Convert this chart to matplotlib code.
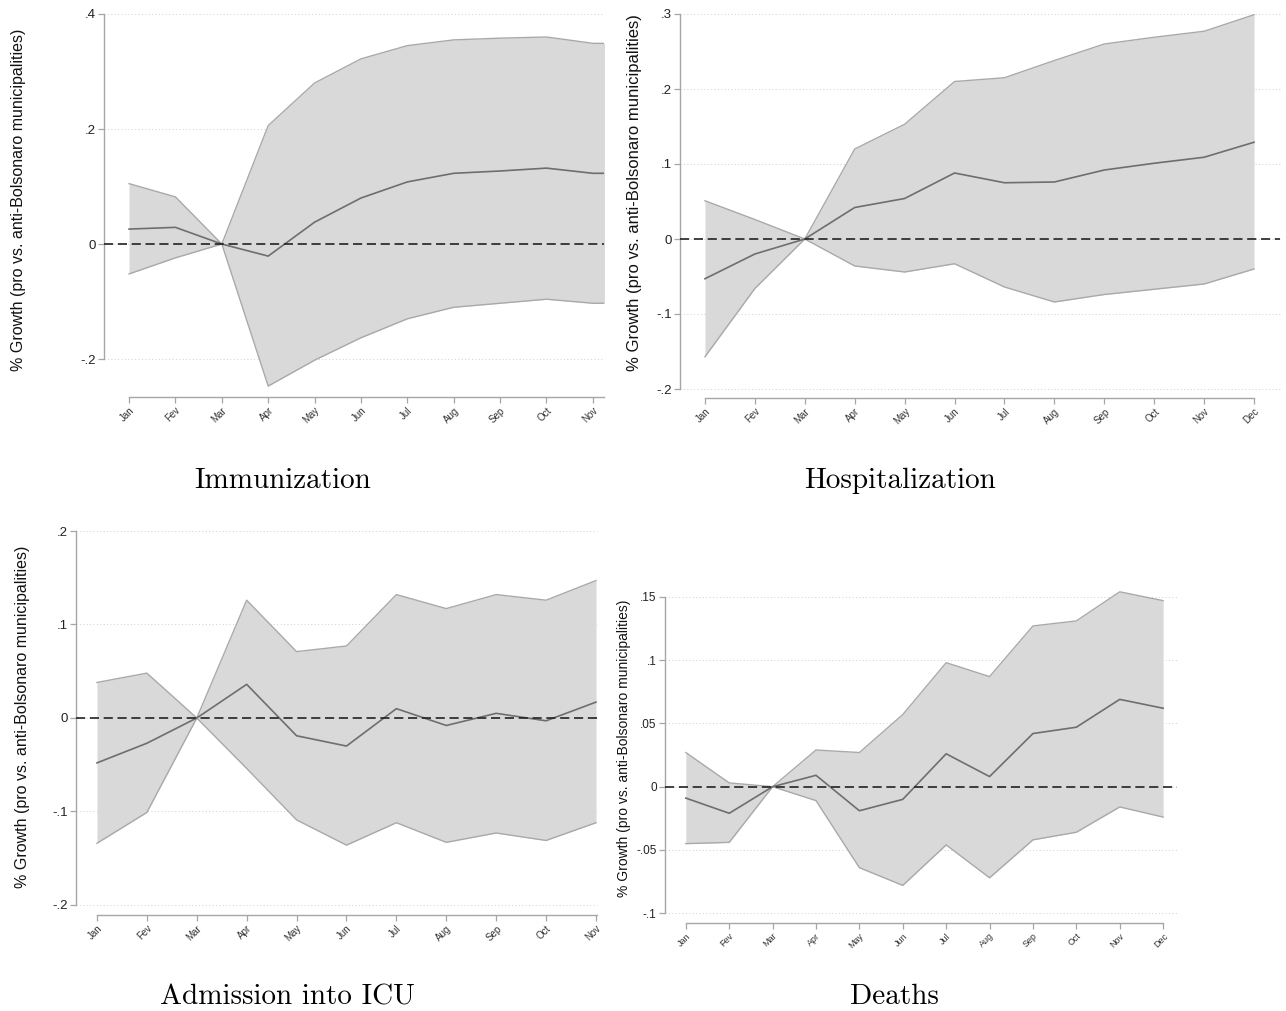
import matplotlib
matplotlib.use("Agg")
import matplotlib.pyplot as plt

months = ["Jan", "Fev", "Mar", "Apr", "May", "Jun", "Jul", "Aug", "Sep", "Oct", "Nov", "Dec"]

# Immunization (last month falls outside the visible window)
imm_est = [0.026, 0.029, 0.0, -0.021, 0.038, 0.080, 0.108, 0.123, 0.127, 0.132, 0.123, 0.123]
imm_lo = [-0.052, -0.024, 0.0, -0.247, -0.202, -0.163, -0.130, -0.110, -0.103, -0.096, -0.103, -0.103]
imm_hi = [0.105, 0.082, 0.0, 0.206, 0.280, 0.322, 0.345, 0.355, 0.358, 0.360, 0.349, 0.349]

# Hospitalization
hosp_est = [-0.053, -0.020, 0.0, 0.042, 0.054, 0.088, 0.075, 0.076, 0.092, 0.101, 0.109, 0.129]
hosp_lo = [-0.157, -0.066, 0.0, -0.036, -0.044, -0.033, -0.064, -0.084, -0.074, -0.067, -0.060, -0.040]
hosp_hi = [0.051, 0.026, 0.0, 0.120, 0.153, 0.210, 0.215, 0.238, 0.260, 0.269, 0.277, 0.299]

# Admission into ICU
icu_est = [-0.048, -0.027, 0.0, 0.036, -0.019, -0.030, 0.010, -0.008, 0.005, -0.003, 0.017]
icu_lo = [-0.134, -0.101, 0.0, -0.054, -0.109, -0.136, -0.112, -0.133, -0.123, -0.131, -0.112]
icu_hi = [0.038, 0.048, 0.0, 0.126, 0.071, 0.077, 0.132, 0.117, 0.132, 0.126, 0.147]

# Deaths
death_est = [-0.009, -0.021, 0.0, 0.009, -0.019, -0.010, 0.026, 0.008, 0.042, 0.047, 0.069, 0.062]
death_lo = [-0.045, -0.044, 0.0, -0.011, -0.064, -0.078, -0.046, -0.072, -0.042, -0.036, -0.016, -0.024]
death_hi = [0.027, 0.003, 0.0, 0.029, 0.027, 0.057, 0.098, 0.087, 0.127, 0.131, 0.154, 0.147]

W, H = 1286, 1011
ylab = "% Growth (pro vs. anti-Bolsonaro municipalities)"
sans = ["Liberation Sans", "DejaVu Sans"]
axis_grey = "#a6a6a6"


def stata_fmt(v):
    # Stata style: drop the leading zero (.2, -.05)
    if abs(v) < 1e-9:
        return "0"
    s = "%g" % v
    return s.replace("0.", ".")


fig = plt.figure(figsize=(W / 100, H / 100), dpi=100)


def panel(box, est, lo, hi, yticks, ylim, xlim, xspan, caption, cap_xy, ylab_xy,
          fs_y=9.5, fs_x=7, fs_lab=11.5):
    l, t, r, b = box
    ax = fig.add_axes([l / W, 1 - b / H, (r - l) / W, (b - t) / H])
    x = list(range(len(est)))
    ax.fill_between(x, lo, hi, color="#d9d9d9", linewidth=0, zorder=1)
    ax.plot(x, lo, color="#a9a9a9", lw=1.0, zorder=2)
    ax.plot(x, hi, color="#a9a9a9", lw=1.0, zorder=2)
    ax.plot(x, est, color="#6e6e6e", lw=1.2, zorder=3)
    for yv in yticks:
        ax.axhline(yv, color="#cfcfcf", lw=0.7, ls=(0, (1, 2.5)), zorder=0, clip_on=False)
    ax.axhline(0, color="#222222", lw=1.2, ls=(0, (5.5, 2.8)), zorder=4)
    ax.set_yticks(yticks)
    ax.set_yticklabels([stata_fmt(v) for v in yticks], fontsize=fs_y, family=sans)
    ax.set_xticks(range(12))
    ax.set_xticklabels(months, fontsize=fs_x, family=sans, rotation=45,
                       ha="right", va="top", rotation_mode="anchor", color="#333333")
    ax.set_xlim(*xlim)
    ax.set_ylim(*ylim)
    ax.tick_params(axis="both", colors=axis_grey, length=4, width=0.9)
    ax.tick_params(axis="y", labelcolor="#222222", pad=2)
    ax.tick_params(axis="x", labelcolor="#333333", pad=2)
    for s in ("top", "right"):
        ax.spines[s].set_visible(False)
    for s in ("left", "bottom"):
        ax.spines[s].set_color(axis_grey)
        ax.spines[s].set_linewidth(1.0)
    ax.spines["left"].set_bounds(min(yticks), max(yticks))
    ax.spines["bottom"].set_bounds(*xspan)
    ax.set_facecolor("none")
    ax.set_ylabel(ylab, fontsize=fs_lab, family=sans, color="#111111")
    ax.yaxis.set_label_coords((ylab_xy[0] - l) / (r - l), (b - ylab_xy[1]) / (b - t))
    fig.text(cap_xy[0] / W, 1 - cap_xy[1] / H, caption, family="cmr10",
             fontsize=21, ha="center", va="center")
    return ax


panel((104, 14, 604, 397), imm_est, imm_lo, imm_hi,
      [-0.2, 0.0, 0.2, 0.4], (-0.266, 0.4), (-0.54, 10.24), (0, 10.24),
      "Immunization", (283, 481), (26, 200))

panel((680, 14, 1280, 398), hosp_est, hosp_lo, hosp_hi,
      [-0.2, -0.1, 0.0, 0.1, 0.2, 0.3], (-0.212, 0.3), (-0.5, 11.52), (0, 11),
      "Hospitalization", (900, 481), (642, 193), fs_lab=12)

panel((76, 531, 597, 915), icu_est, icu_lo, icu_hi,
      [-0.2, -0.1, 0.0, 0.1, 0.2], (-0.2107, 0.2), (-0.42, 10.02), (0, 10.02),
      "Admission into ICU", (288, 997), (30, 717))

panel((665, 588, 1177, 923), death_est, death_lo, death_hi,
      [-0.1, -0.05, 0.0, 0.05, 0.1, 0.15], (-0.1077, 0.157), (-0.48, 11.32), (0, 11),
      "Deaths", (894, 997), (631, 748), fs_y=8.5, fs_x=6.5, fs_lab=10)

fig.savefig("out.png", dpi=100, facecolor="white")
